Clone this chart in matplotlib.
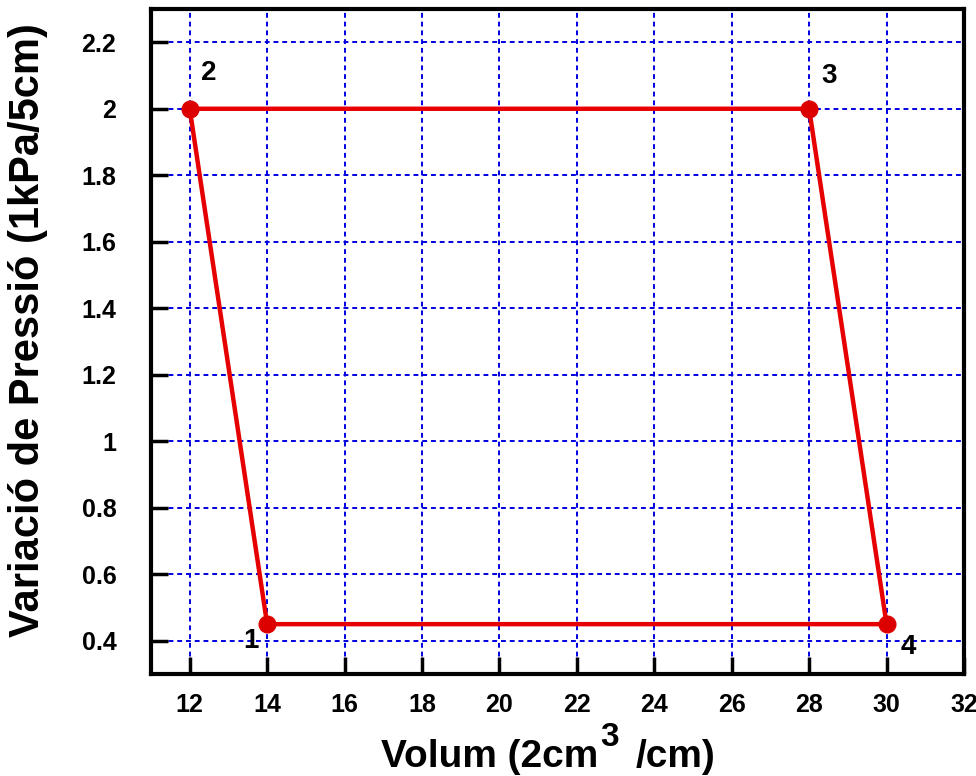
import matplotlib
matplotlib.use("Agg")
import matplotlib.pyplot as plt

# cycle points 1 -> 2 -> 3 -> 4 -> 1
volum = [14, 12, 28, 30, 14]
pressio = [0.45, 2.0, 2.0, 0.45, 0.45]
etiquetes = ["1", "2", "3", "4"]
xticks = list(range(12, 33, 2))
yticks = [0.4, 0.6, 0.8, 1.0, 1.2, 1.4, 1.6, 1.8, 2.0, 2.2]
ytick_labels = ["0.4", "0.6", "0.8", "1", "1.2", "1.4", "1.6", "1.8", "2", "2.2"]

plt.rcParams["font.family"] = ["Liberation Sans", "DejaVu Sans"]
plt.rcParams["font.weight"] = "bold"

fig = plt.figure(figsize=(9.76, 7.76), dpi=100)
ax = fig.add_axes([0.1547, 0.1314, 0.8330, 0.8570])

ax.plot(volum, pressio, color="#e60000", lw=3.2, zorder=3)
ax.plot(volum[:4], pressio[:4], "o", color="#dd0000", ms=12, zorder=4)

# point numbers, offset in pixels from each marker
offsets = [(-16, -17), (19, 36), (20, 33), (22, -23)]
for i, lab in enumerate(etiquetes):
    ax.annotate(lab, (volum[i], pressio[i]), xytext=offsets[i],
                textcoords="offset pixels", ha="center", va="center",
                fontsize=20, fontweight="bold")

ax.set_xlim(11, 32)
ax.set_ylim(0.3, 2.3)
ax.set_xticks(xticks)
ax.set_yticks(yticks)
ax.set_yticklabels(ytick_labels)
ax.grid(True, color="#0000e0", lw=1.4, linestyle=(0, (2.5, 2)))
ax.set_axisbelow(True)

ax.tick_params(direction="in", length=12, width=2.5, labelsize=18,
               top=False, right=False)
ax.tick_params(axis="x", pad=14)
ax.tick_params(axis="y", pad=25)
for sp in ax.spines.values():
    sp.set_linewidth(3)

fig.text(0.029, 0.575, "Variació de Pressió (1kPa/5cm)", rotation=90,
         ha="center", va="center", fontsize=30, fontweight="bold")
# x label split in pieces so the odd superscript sits like the original
fig.text(0.613, 0.011, "Volum (2cm", ha="right", va="baseline",
         fontsize=28, fontweight="bold")
fig.text(0.651, 0.011, "/cm)", ha="left", va="baseline",
         fontsize=28, fontweight="bold")
fig.text(0.6145, 0.05, "3", ha="left", va="center", fontsize=24,
         fontweight="bold")

fig.savefig("out.png", dpi=100)
